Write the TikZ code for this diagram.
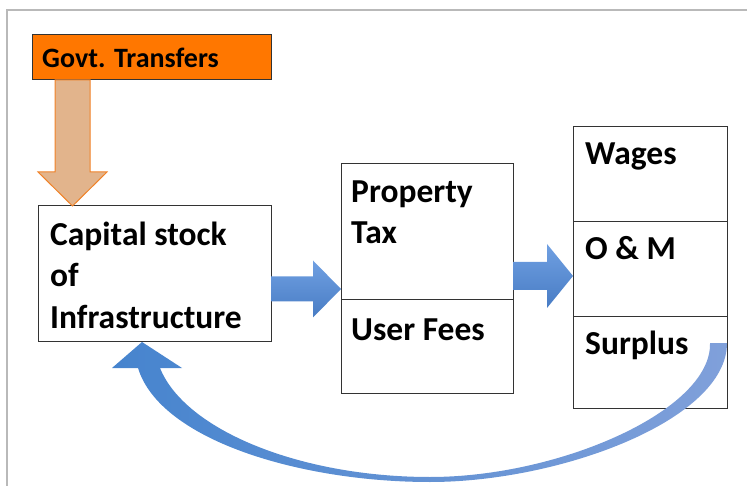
\documentclass[tikz,border=0pt]{standalone}
\usepackage{fontspec}
\setmainfont{Carlito}
\usetikzlibrary{calc,positioning}

\definecolor{govorange}{RGB}{255,119,0}
\definecolor{tanfill}{RGB}{226,180,140}
\definecolor{tanline}{RGB}{240,130,40}
\definecolor{bluetop}{RGB}{112,160,226}
\definecolor{bluebot}{RGB}{72,124,196}
\definecolor{curvedark}{RGB}{70,132,206}
\definecolor{curvelight}{RGB}{128,160,218}
\definecolor{framegray}{RGB}{185,185,185}

\tikzset{
  cell/.style={draw=black!80, line width=1pt, fill=white, inner sep=0pt, outer sep=0pt, anchor=north west},
  lbl/.style={font=\fontsize{33.5}{41}\selectfont\bfseries, align=left, anchor=base west, inner sep=0pt},
  fatblue/.style={top color=bluetop, bottom color=bluebot, draw=none},
  curvefill/.style={left color=curvedark, right color=curvelight, draw=none},
}

\begin{document}
\begin{tikzpicture}[x=1pt,y=-1pt]
		\useasboundingbox (0,0) rectangle (747,486);
		\draw[framegray, line width=2pt] (7,486) -- (7,10) -- (747,10);

		% boxes
		\node[cell, fill=govorange, minimum width=239pt, minimum height=45pt] (govt) at (32,35) {};
		\node[cell, minimum width=233pt, minimum height=135pt] (cap) at (38,206) {};
		\node[cell, minimum width=172pt, minimum height=136pt] (prop) at (341,164) {};
		\node[cell, minimum width=172pt, minimum height=93pt, below=0pt of prop] (fees) {};
		\node[cell, minimum width=154pt, minimum height=95pt] (wage) at (573,127) {};
		\node[cell, minimum width=154pt, minimum height=95pt, below=0pt of wage] (om) {};
		\node[cell, minimum width=154pt, minimum height=91pt, below=0pt of om] (surp) {};

		% labels (base = last line)
		\node[lbl, font=\fontsize{28}{34}\selectfont\bfseries] (govttxt) at ([shift={(10,33)}]govt.north west) {Govt. Transfers};
		\node[lbl] (captxt) at ([shift={(12,122)}]cap.north west) {Capital stock\\of\\Infrastructure};
		\node[lbl] (proptxt) at ([shift={(10,80)}]prop.north west) {Property\\Tax};
		\node[lbl] (feestxt) at ([shift={(10,41)}]fees.north west) {User Fees};
		\node[lbl] (wagetxt) at ([shift={(12,38)}]wage.north west) {Wages};
		\node[lbl] (omtxt) at ([shift={(12,38)}]om.north west) {O \& M};
		\node[lbl] (surptxt) at ([shift={(12,38)}]surp.north west) {Surplus};

		% down arrow
		\coordinate (ds) at ([xshift=40.5pt]govt.south west);
		\coordinate (dt) at (ds |- cap.north);
		\draw[fill=tanfill, draw=tanline, line width=1pt, line join=miter]
			($(ds)+(-17.5,0)$) -- ($(dt)+(-17.5,-34)$) -- ($(dt)+(-34.5,-34)$) -- (dt)
			-- ($(dt)+(34.5,-34)$) -- ($(dt)+(17.5,-34)$) -- ($(ds)+(17.5,0)$) -- cycle;

		% straight arrows
		\coordinate (a1s) at (cap.east |- 0,289);
		\coordinate (a1t) at (prop.west |- a1s);
		\coordinate (a2s) at (prop.east |- 0,276);
		\coordinate (a2t) at (om.west |- a2s);
		\foreach \s/\t/\w/\h/\l in {a1s/a1t/12.5/28.5/28, a2s/a2t/14/32/26} {
			\path[fatblue] ($(\s)+(0,-\w)$) -- ($(\t)+(-\l,-\w)$) -- ($(\t)+(-\l,-\h)$) -- (\t)
				-- ($(\t)+(-\l,\h)$) -- ($(\t)+(-\l,\w)$) -- ($(\s)+(0,\w)$) -- cycle;
		}

		% curved arrow back
		\coordinate (cs) at ([yshift=19.5pt]surp.east);
		\coordinate (ct) at ([xshift=104pt,yshift=-1pt]cap.south west);
		\path[curvefill] (cs) .. controls +(0,77) and (560,482) .. (430,482)
			.. controls (300,482) and (160,440) .. (138,368)
			-- (112,368) -- (ct) -- (182,368) -- (160,368)
			.. controls (185,430) and (300,477) .. (430,477)
			.. controls (560,477) and (712,410) .. ($(cs)+(-17,0)$) -- cycle;
	\end{tikzpicture}
\end{document}
